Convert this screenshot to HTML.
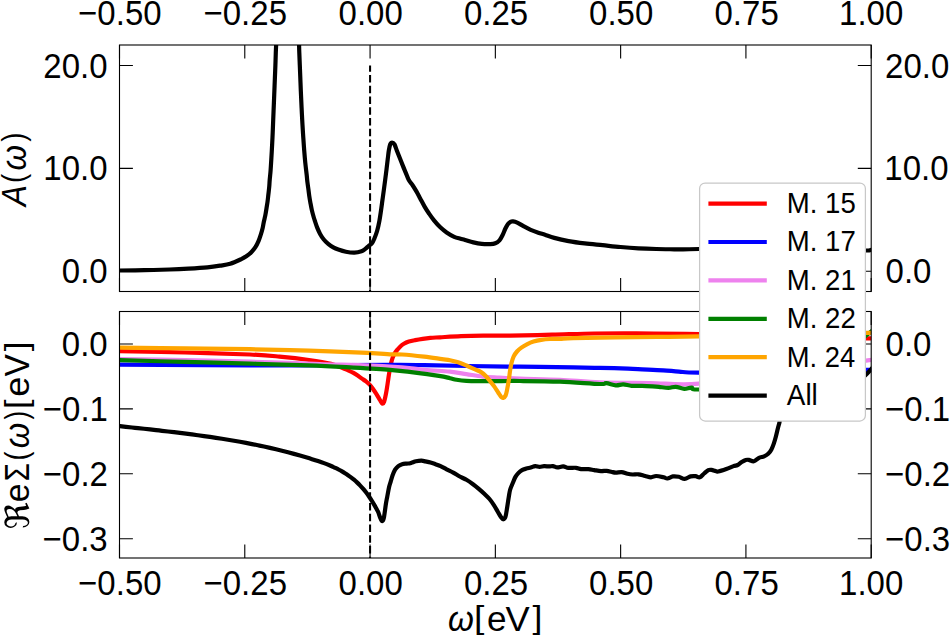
<!DOCTYPE html><html><head><meta charset="utf-8"><title>Spectral function and self-energy</title><style>html,body{margin:0;padding:0;background:#fff;overflow:hidden}svg{display:block}text{font-family:"Liberation Sans", sans-serif}</style></head><body><svg width="950" height="636" viewBox="0 0 950 636"><defs><clipPath id="ct"><rect x="119.5" y="45.0" width="751.7" height="246.5"/></clipPath><clipPath id="cb"><rect x="119.5" y="311.5" width="751.7" height="246.5"/></clipPath></defs><rect width="950" height="636" fill="#fff"/><g clip-path="url(#ct)" fill="none" stroke-linejoin="round" stroke-width="4.2"><path d="M117.00,270.50 C117.42,270.50 114.95,270.55 119.50,270.50 C124.05,270.45 135.97,270.37 144.30,270.20 C152.63,270.03 162.13,269.77 169.50,269.50 C176.87,269.23 182.18,268.97 188.50,268.60 C194.82,268.23 202.15,267.78 207.40,267.30 C212.65,266.82 216.20,266.28 220.00,265.70 C223.80,265.12 226.65,264.90 230.20,263.80 C233.75,262.70 238.62,260.35 241.30,259.10 C243.98,257.85 244.63,257.45 246.30,256.30 C247.97,255.15 249.78,253.72 251.30,252.20 C252.82,250.68 254.18,249.08 255.40,247.20 C256.62,245.32 257.70,243.00 258.60,240.90 C259.50,238.80 260.13,236.70 260.80,234.60 C261.47,232.50 262.11,230.37 262.60,228.30 C263.09,226.23 263.30,224.35 263.75,222.20 C264.20,220.05 264.84,217.72 265.30,215.40 C265.76,213.08 266.12,210.67 266.50,208.30 C266.88,205.93 267.28,203.55 267.60,201.20 C267.92,198.85 268.13,196.55 268.40,194.20 C268.67,191.85 268.98,189.47 269.20,187.10 C269.42,184.73 269.47,182.80 269.70,180.00 C269.93,177.20 270.32,174.02 270.60,170.30 C270.88,166.58 271.15,161.88 271.40,157.70 C271.65,153.52 271.88,149.38 272.10,145.20 C272.32,141.02 272.52,136.80 272.70,132.60 C272.88,128.40 273.00,124.95 273.20,120.00 C273.40,115.05 273.70,107.85 273.90,102.90 C274.10,97.95 274.23,94.50 274.40,90.30 C274.57,86.10 274.73,81.88 274.90,77.70 C275.07,73.52 275.25,69.38 275.40,65.20 C275.55,61.02 275.68,55.85 275.80,52.60 C275.92,49.35 275.98,48.47 276.10,45.70 C276.22,42.93 274.60,43.62 276.50,36.00 C278.40,28.38 283.77,0.00 287.50,0.00 C291.23,0.00 296.97,28.38 298.90,36.00 C300.83,43.62 299.03,42.93 299.10,45.70 C299.17,48.47 299.18,49.35 299.30,52.60 C299.42,55.85 299.63,61.02 299.80,65.20 C299.97,69.38 300.13,73.52 300.30,77.70 C300.47,81.88 300.63,86.33 300.80,90.30 C300.97,94.27 301.12,97.55 301.30,101.50 C301.48,105.45 301.70,110.05 301.90,114.00 C302.10,117.95 302.27,121.25 302.50,125.20 C302.73,129.15 303.02,133.52 303.30,137.70 C303.58,141.88 303.87,146.10 304.20,150.30 C304.53,154.50 304.88,158.78 305.30,162.90 C305.72,167.02 306.35,171.80 306.70,175.00 C307.05,178.20 307.12,179.73 307.40,182.10 C307.68,184.47 308.08,186.85 308.40,189.20 C308.72,191.55 308.95,193.85 309.30,196.20 C309.65,198.55 310.07,200.93 310.50,203.30 C310.93,205.67 311.35,208.03 311.90,210.40 C312.45,212.77 313.25,215.60 313.80,217.50 C314.35,219.40 314.63,220.12 315.20,221.80 C315.77,223.48 316.38,225.58 317.20,227.60 C318.02,229.62 319.00,231.92 320.10,233.90 C321.20,235.88 322.45,237.83 323.80,239.50 C325.15,241.17 326.62,242.58 328.20,243.90 C329.78,245.22 331.62,246.45 333.30,247.40 C334.98,248.35 336.20,248.87 338.30,249.60 C340.40,250.33 343.22,251.28 345.90,251.80 C348.58,252.32 351.80,252.78 354.40,252.70 C357.00,252.62 359.73,251.88 361.50,251.30 C363.27,250.72 363.75,250.15 365.00,249.20 C366.25,248.25 367.83,246.58 369.00,245.60 C370.17,244.62 371.15,244.37 372.00,243.30 C372.85,242.23 373.25,241.25 374.10,239.20 C374.95,237.15 376.22,234.07 377.10,231.00 C377.98,227.93 378.75,224.20 379.40,220.80 C380.05,217.40 380.50,214.00 381.00,210.60 C381.50,207.20 381.93,203.80 382.40,200.40 C382.87,197.00 383.22,194.55 383.80,190.20 C384.38,185.85 385.23,179.57 385.90,174.30 C386.57,169.03 387.32,162.53 387.80,158.60 C388.28,154.67 388.40,153.07 388.80,150.70 C389.20,148.33 389.65,145.77 390.20,144.40 C390.75,143.03 391.38,142.50 392.10,142.50 C392.82,142.50 393.70,143.03 394.50,144.40 C395.30,145.77 395.98,148.33 396.90,150.70 C397.82,153.07 398.97,155.98 400.00,158.60 C401.03,161.22 402.15,164.07 403.10,166.40 C404.05,168.73 404.75,170.32 405.70,172.60 C406.65,174.88 407.65,178.00 408.80,180.10 C409.95,182.20 411.33,183.32 412.60,185.20 C413.87,187.08 415.13,189.20 416.40,191.40 C417.67,193.60 418.83,195.87 420.20,198.40 C421.57,200.93 423.13,204.08 424.60,206.60 C426.07,209.12 427.43,211.20 429.00,213.50 C430.57,215.80 432.12,218.10 434.00,220.40 C435.88,222.70 438.20,225.30 440.30,227.30 C442.40,229.30 444.28,230.82 446.60,232.40 C448.92,233.98 451.88,235.75 454.20,236.80 C456.52,237.85 458.70,238.18 460.50,238.70 C462.30,239.22 462.85,239.28 465.00,239.90 C467.15,240.52 470.60,241.73 473.40,242.40 C476.20,243.07 478.98,243.62 481.80,243.90 C484.62,244.18 488.05,244.20 490.30,244.10 C492.55,244.00 493.77,243.93 495.30,243.30 C496.83,242.67 498.30,241.63 499.50,240.30 C500.70,238.97 501.52,237.27 502.50,235.30 C503.48,233.33 504.48,230.40 505.40,228.50 C506.32,226.60 507.15,225.02 508.00,223.90 C508.85,222.78 509.67,222.22 510.50,221.80 C511.33,221.38 511.88,221.27 513.00,221.40 C514.12,221.53 515.38,221.77 517.20,222.60 C519.02,223.43 521.65,225.20 523.90,226.40 C526.15,227.60 528.30,228.75 530.70,229.80 C533.10,230.85 535.92,231.87 538.30,232.70 C540.68,233.53 542.33,233.93 545.00,234.80 C547.67,235.67 550.37,236.85 554.30,237.90 C558.23,238.95 563.53,240.18 568.60,241.10 C573.67,242.02 579.03,242.72 584.70,243.40 C590.37,244.08 596.63,244.60 602.60,245.20 C608.57,245.80 614.53,246.48 620.50,247.00 C626.47,247.52 632.43,247.97 638.40,248.30 C644.37,248.63 650.33,248.83 656.30,249.00 C662.27,249.17 669.73,249.23 674.20,249.30 C678.67,249.37 678.97,249.45 683.10,249.40 C687.23,249.35 692.85,249.05 699.00,249.00 C705.15,248.95 709.83,249.17 720.00,249.10 C730.17,249.03 746.67,248.62 760.00,248.60 C773.33,248.58 786.67,248.77 800.00,249.00 C813.33,249.23 829.00,249.75 840.00,250.00 C851.00,250.25 860.80,250.53 866.00,250.50 C871.20,250.47 869.87,249.97 871.20,249.80 C872.53,249.63 873.53,249.55 874.00,249.50" stroke="#000"/></g><g clip-path="url(#cb)" fill="none" stroke-linejoin="round" stroke-width="4.2"><path d="M117.00,351.10 C117.42,351.10 108.17,350.87 119.50,351.10 C130.83,351.33 163.25,351.93 185.00,352.50 C206.75,353.07 234.25,353.82 250.00,354.50 C265.75,355.18 269.67,355.68 279.50,356.60 C289.33,357.52 300.42,358.78 309.00,360.00 C317.58,361.22 325.12,362.43 331.00,363.90 C336.88,365.37 341.35,367.68 344.30,368.80 C347.25,369.92 347.25,369.95 348.70,370.60 C350.15,371.25 351.57,371.92 353.00,372.70 C354.43,373.48 355.87,374.35 357.30,375.30 C358.73,376.25 360.15,377.38 361.60,378.40 C363.05,379.42 364.70,380.40 366.00,381.40 C367.30,382.40 368.25,383.18 369.40,384.40 C370.55,385.62 371.75,387.12 372.90,388.70 C374.05,390.28 375.22,392.17 376.30,393.90 C377.38,395.63 378.53,397.65 379.40,399.10 C380.27,400.55 380.93,401.85 381.50,402.60 C382.07,403.35 382.37,403.75 382.80,403.60 C383.23,403.45 383.67,402.88 384.10,401.70 C384.53,400.52 384.97,398.52 385.40,396.50 C385.83,394.48 386.27,392.18 386.70,389.60 C387.13,387.02 387.57,383.88 388.00,381.00 C388.43,378.12 388.80,375.18 389.30,372.30 C389.80,369.42 390.45,366.10 391.00,363.70 C391.55,361.30 392.03,359.53 392.60,357.90 C393.17,356.27 393.67,355.20 394.40,353.90 C395.13,352.60 396.05,351.30 397.00,350.10 C397.95,348.90 398.95,347.75 400.10,346.70 C401.25,345.65 402.43,344.65 403.90,343.80 C405.37,342.95 407.02,342.22 408.90,341.60 C410.78,340.98 412.90,340.57 415.20,340.10 C417.50,339.63 420.18,339.17 422.70,338.80 C425.22,338.43 427.42,338.15 430.30,337.90 C433.18,337.65 434.88,337.60 440.00,337.30 C445.12,337.00 453.80,336.38 461.00,336.10 C468.20,335.82 475.03,335.68 483.20,335.60 C491.37,335.52 498.52,335.75 510.00,335.60 C521.48,335.45 538.07,335.05 552.10,334.70 C566.13,334.35 580.17,333.73 594.20,333.50 C608.23,333.27 618.75,333.20 636.30,333.30 C653.85,333.40 675.55,333.57 699.50,334.10 C723.45,334.63 752.25,335.80 780.00,336.50 C807.75,337.20 850.33,338.02 866.00,338.30 C881.67,338.58 872.67,338.22 874.00,338.20" stroke="#ff0000"/><path d="M117.00,364.60 C117.42,364.60 97.33,364.47 119.50,364.60 C141.67,364.73 204.92,365.35 250.00,365.40 C295.08,365.45 360.97,364.95 390.00,364.90 C419.03,364.85 411.13,364.92 424.20,365.10 C437.27,365.28 452.43,365.73 468.40,366.00 C484.37,366.27 502.53,366.47 520.00,366.70 C537.47,366.93 559.87,367.20 573.20,367.40 C586.53,367.60 592.03,367.73 600.00,367.90 C607.97,368.07 613.98,368.17 621.00,368.40 C628.02,368.63 635.07,368.98 642.10,369.30 C649.13,369.62 657.05,369.92 663.20,370.30 C669.35,370.68 673.03,371.22 679.00,371.60 C684.97,371.98 682.17,372.62 699.00,372.60 C715.83,372.58 752.17,371.95 780.00,371.50 C807.83,371.05 850.33,370.18 866.00,369.90 C881.67,369.62 872.67,369.82 874.00,369.80" stroke="#0000ff"/><path d="M117.00,359.00 C117.42,359.00 108.17,358.82 119.50,359.00 C130.83,359.18 163.25,359.65 185.00,360.10 C206.75,360.55 227.50,361.05 250.00,361.70 C272.50,362.35 296.67,363.20 320.00,364.00 C343.33,364.80 372.63,365.53 390.00,366.50 C407.37,367.47 414.20,368.93 424.20,369.80 C434.20,370.67 442.97,370.98 450.00,371.70 C457.03,372.42 460.95,373.28 466.40,374.10 C471.85,374.92 477.25,376.02 482.70,376.60 C488.15,377.18 492.88,377.27 499.10,377.60 C505.32,377.93 509.85,378.23 520.00,378.60 C530.15,378.97 546.67,379.18 560.00,379.80 C573.33,380.42 585.00,381.77 600.00,382.30 C615.00,382.83 633.50,382.77 650.00,383.00 C666.50,383.23 677.33,385.53 699.00,383.70 C720.67,381.87 752.17,375.83 780.00,372.00 C807.83,368.17 850.33,362.70 866.00,360.70 C881.67,358.70 872.67,360.12 874.00,360.00" stroke="#ee82ee"/><path d="M117.00,360.20 C117.42,360.20 108.17,359.92 119.50,360.20 C130.83,360.48 163.25,361.33 185.00,361.90 C206.75,362.47 229.33,363.02 250.00,363.60 C270.67,364.18 291.80,364.73 309.00,365.40 C326.20,366.07 339.70,366.87 353.20,367.60 C366.70,368.33 380.62,369.08 390.00,369.80 C399.38,370.52 401.35,370.90 409.50,371.90 C417.65,372.90 432.15,374.75 438.90,375.80 C445.65,376.85 447.07,377.53 450.00,378.20 C452.93,378.87 453.77,379.35 456.50,379.80 C459.23,380.25 462.03,380.68 466.40,380.90 C470.77,381.12 477.93,381.07 482.70,381.10 C487.47,381.13 488.78,381.12 495.00,381.10 C501.22,381.08 509.17,380.90 520.00,381.00 C530.83,381.10 546.67,381.20 560.00,381.70 C573.33,382.20 592.28,383.75 600.00,384.00 C607.72,384.25 603.67,382.98 606.30,383.20 C608.93,383.42 612.98,385.10 615.80,385.30 C618.62,385.50 620.57,384.32 623.20,384.40 C625.83,384.48 628.45,385.57 631.60,385.80 C634.75,386.03 638.60,385.72 642.10,385.80 C645.60,385.88 649.80,386.13 652.60,386.30 C655.40,386.47 656.27,386.53 658.90,386.80 C661.53,387.07 665.58,387.90 668.40,387.90 C671.22,387.90 673.17,386.63 675.80,386.80 C678.43,386.97 681.57,388.77 684.20,388.90 C686.83,389.03 689.13,387.50 691.60,387.60 C694.07,387.70 687.60,389.43 699.00,389.50 C710.40,389.57 738.17,391.25 760.00,388.00 C781.83,384.75 814.17,377.17 830.00,370.00 C845.83,362.83 849.00,350.73 855.00,345.00 C861.00,339.27 863.33,337.83 866.00,335.60 C868.67,333.37 869.33,332.87 871.00,331.60 C872.67,330.33 875.17,328.60 876.00,328.00" stroke="#008000"/><path d="M117.00,347.70 C117.42,347.70 108.17,347.58 119.50,347.70 C130.83,347.82 163.25,348.15 185.00,348.40 C206.75,348.65 229.33,348.83 250.00,349.20 C270.67,349.57 289.35,350.00 309.00,350.60 C328.65,351.20 354.40,352.18 367.90,352.80 C381.40,353.42 384.30,354.02 390.00,354.30 C395.70,354.58 396.40,354.10 402.10,354.50 C407.80,354.90 417.57,355.93 424.20,356.70 C430.83,357.47 437.60,358.52 441.90,359.10 C446.20,359.68 447.28,359.67 450.00,360.20 C452.72,360.73 455.47,361.42 458.20,362.30 C460.93,363.18 463.68,364.35 466.40,365.50 C469.12,366.65 472.05,368.10 474.50,369.20 C476.95,370.30 479.18,370.93 481.10,372.10 C483.02,373.27 484.50,374.70 486.00,376.20 C487.50,377.70 488.73,379.40 490.10,381.10 C491.47,382.80 492.85,384.50 494.20,386.40 C495.55,388.30 497.05,390.77 498.20,392.50 C499.35,394.23 500.28,395.90 501.10,396.80 C501.92,397.70 502.35,398.12 503.10,397.90 C503.85,397.68 504.92,396.95 505.60,395.50 C506.28,394.05 506.65,391.88 507.20,389.20 C507.75,386.52 508.42,382.53 508.90,379.40 C509.38,376.27 509.67,373.13 510.10,370.40 C510.53,367.67 510.90,365.33 511.50,363.00 C512.10,360.67 512.78,358.32 513.70,356.40 C514.62,354.48 515.72,352.97 517.00,351.50 C518.28,350.03 519.75,348.80 521.40,347.60 C523.05,346.40 524.88,345.30 526.90,344.30 C528.92,343.30 531.12,342.33 533.50,341.60 C535.88,340.87 538.45,340.33 541.20,339.90 C543.95,339.47 546.87,339.18 550.00,339.00 C553.13,338.82 556.13,338.95 560.00,338.80 C563.87,338.65 563.98,338.35 573.20,338.10 C582.42,337.85 601.27,337.50 615.30,337.30 C629.33,337.10 643.37,337.05 657.40,336.90 C671.43,336.75 679.07,336.80 699.50,336.40 C719.93,336.00 752.25,335.08 780.00,334.50 C807.75,333.92 850.33,333.18 866.00,332.90 C881.67,332.62 872.67,332.82 874.00,332.80" stroke="#ffa500"/><path d="M117.00,425.70 C117.50,425.77 118.50,425.96 120.00,426.15 C121.50,426.33 124.00,426.59 126.00,426.81 C128.00,427.03 130.00,427.25 132.00,427.47 C134.00,427.69 136.00,427.90 138.00,428.12 C140.00,428.34 142.00,428.56 144.00,428.78 C146.00,429.00 148.00,429.22 150.00,429.44 C152.00,429.66 154.00,429.88 156.00,430.11 C158.00,430.34 160.00,430.56 162.00,430.79 C164.00,431.02 166.00,431.25 168.00,431.48 C170.00,431.71 172.00,431.95 174.00,432.19 C176.00,432.43 178.00,432.67 180.00,432.92 C182.00,433.17 184.00,433.42 186.00,433.67 C188.00,433.92 190.00,434.18 192.00,434.44 C194.00,434.70 196.00,434.97 198.00,435.24 C200.00,435.51 202.00,435.78 204.00,436.06 C206.00,436.34 208.00,436.63 210.00,436.92 C212.00,437.21 214.00,437.51 216.00,437.82 C218.00,438.12 220.00,438.43 222.00,438.75 C224.00,439.07 226.00,439.39 228.00,439.72 C230.00,440.05 232.00,440.39 234.00,440.74 C236.00,441.09 238.00,441.44 240.00,441.80 C242.00,442.16 244.00,442.53 246.00,442.91 C248.00,443.29 250.00,443.67 252.00,444.07 C254.00,444.47 256.00,444.88 258.00,445.29 C260.00,445.71 262.00,446.12 264.00,446.56 C266.00,447.00 268.00,447.44 270.00,447.90 C272.00,448.35 274.00,448.81 276.00,449.29 C278.00,449.77 280.00,450.25 282.00,450.75 C284.00,451.25 286.00,451.76 288.00,452.28 C290.00,452.80 292.00,453.33 294.00,453.88 C296.00,454.43 298.00,454.99 300.00,455.56 C302.00,456.13 304.00,456.71 306.00,457.31 C308.00,457.91 310.00,458.51 312.00,459.14 C314.00,459.76 316.00,460.39 318.00,461.06 C320.00,461.73 322.00,462.40 324.00,463.14 C326.00,463.88 328.50,464.88 330.00,465.49 C331.50,466.10 332.00,466.35 333.00,466.80 C334.00,467.25 335.00,467.72 336.00,468.21 C337.00,468.70 338.00,469.21 339.00,469.74 C340.00,470.27 341.00,470.82 342.00,471.40 C343.00,471.98 344.00,472.57 345.00,473.20 C346.00,473.83 347.00,474.47 348.00,475.16 C349.00,475.85 350.00,476.56 351.00,477.32 C352.00,478.08 353.00,478.86 354.00,479.70 C355.00,480.54 356.00,481.42 357.00,482.36 C358.00,483.30 359.00,484.28 360.00,485.33 C361.00,486.38 362.00,487.47 363.00,488.64 C364.00,489.81 365.00,491.04 366.00,492.34 C367.00,493.64 368.00,495.01 369.00,496.46 C370.00,497.91 371.00,499.43 372.00,501.04 C373.00,502.65 374.00,504.34 375.00,506.12 C376.00,507.90 377.20,509.99 378.00,511.74 C378.80,513.49 379.17,515.07 379.80,516.60 C380.43,518.13 381.22,520.37 381.80,520.90 C382.38,521.43 382.92,520.52 383.30,519.80 C383.68,519.08 383.80,518.30 384.10,516.60 C384.40,514.90 384.77,511.92 385.10,509.60 C385.43,507.28 385.73,504.92 386.10,502.70 C386.47,500.48 386.80,498.92 387.30,496.30 C387.80,493.68 388.53,489.45 389.10,487.00 C389.67,484.55 390.12,483.55 390.70,481.60 C391.28,479.65 391.87,477.30 392.60,475.30 C393.33,473.30 394.15,471.13 395.10,469.60 C396.05,468.07 397.13,467.00 398.30,466.10 C399.47,465.20 400.73,464.62 402.10,464.20 C403.47,463.78 405.13,463.75 406.50,463.60 C407.87,463.45 409.25,463.52 410.30,463.30 C411.35,463.08 411.85,462.65 412.80,462.30 C413.75,461.95 414.53,461.47 416.00,461.20 C417.47,460.93 420.03,460.67 421.60,460.70 C423.17,460.73 423.92,461.10 425.40,461.40 C426.88,461.70 428.82,462.03 430.50,462.50 C432.18,462.97 433.82,463.60 435.50,464.20 C437.18,464.80 438.75,465.25 440.60,466.10 C442.45,466.95 444.50,468.22 446.60,469.30 C448.70,470.38 451.00,471.40 453.20,472.60 C455.40,473.80 457.60,475.30 459.80,476.50 C462.00,477.70 464.20,478.52 466.40,479.80 C468.60,481.08 470.98,482.73 473.00,484.20 C475.02,485.67 476.67,487.05 478.50,488.60 C480.33,490.15 482.17,491.77 484.00,493.50 C485.83,495.23 487.85,497.07 489.50,499.00 C491.15,500.93 492.52,502.98 493.90,505.10 C495.28,507.22 496.60,509.67 497.80,511.70 C499.00,513.73 500.18,516.03 501.10,517.30 C502.02,518.57 502.57,519.42 503.30,519.30 C504.03,519.18 504.87,518.52 505.50,516.60 C506.13,514.68 506.55,511.10 507.10,507.80 C507.65,504.50 508.28,499.85 508.80,496.80 C509.32,493.75 509.48,491.92 510.20,489.50 C510.92,487.08 512.25,484.37 513.10,482.30 C513.95,480.23 514.43,478.63 515.30,477.10 C516.17,475.57 517.18,474.27 518.30,473.10 C519.42,471.93 520.65,470.85 522.00,470.10 C523.35,469.35 524.93,469.03 526.40,468.60 C527.87,468.17 529.33,467.92 530.80,467.50 C532.27,467.08 533.73,466.20 535.20,466.10 C536.67,466.00 538.12,466.88 539.60,466.90 C541.08,466.92 542.50,466.28 544.10,466.20 C545.70,466.12 547.73,466.42 549.20,466.40 C550.67,466.38 551.55,465.93 552.90,466.10 C554.25,466.27 555.58,467.35 557.30,467.40 C559.02,467.45 561.35,466.32 563.20,466.40 C565.05,466.48 566.28,467.67 568.40,467.90 C570.52,468.13 573.78,467.60 575.90,467.80 C578.02,468.00 579.02,468.88 581.10,469.10 C583.18,469.32 586.20,468.93 588.40,469.10 C590.60,469.27 592.20,469.77 594.30,470.10 C596.40,470.43 598.92,470.98 601.00,471.10 C603.08,471.22 605.08,470.68 606.80,470.80 C608.52,470.92 609.82,471.48 611.30,471.80 C612.78,472.12 613.98,472.65 615.70,472.70 C617.42,472.75 619.63,471.92 621.60,472.10 C623.57,472.28 625.67,473.40 627.50,473.80 C629.33,474.20 630.78,474.42 632.60,474.50 C634.42,474.58 636.32,474.05 638.40,474.30 C640.48,474.55 643.00,475.50 645.10,476.00 C647.20,476.50 649.17,477.30 651.00,477.30 C652.83,477.30 654.00,476.00 656.10,476.00 C658.20,476.00 661.72,476.88 663.60,477.30 C665.48,477.72 665.85,478.65 667.40,478.50 C668.95,478.35 671.00,476.68 672.90,476.40 C674.80,476.12 676.83,476.38 678.80,476.80 C680.77,477.22 682.73,478.97 684.70,478.90 C686.67,478.83 688.78,476.85 690.60,476.40 C692.42,475.95 694.07,476.05 695.60,476.20 C697.13,476.35 698.38,477.75 699.80,477.30 C701.22,476.85 702.68,474.70 704.10,473.50 C705.52,472.30 707.05,470.70 708.30,470.10 C709.55,469.50 710.48,469.77 711.60,469.90 C712.72,470.03 713.90,470.63 715.00,470.90 C716.10,471.17 716.32,471.80 718.20,471.50 C720.08,471.20 723.75,470.00 726.30,469.10 C728.85,468.20 731.62,466.78 733.50,466.10 C735.38,465.42 736.23,465.68 737.60,465.00 C738.97,464.32 740.33,462.85 741.70,462.00 C743.07,461.15 744.62,460.25 745.80,459.90 C746.98,459.55 747.45,459.67 748.80,459.90 C750.15,460.13 752.20,461.63 753.90,461.30 C755.60,460.97 757.30,458.72 759.00,457.90 C760.70,457.08 762.57,457.08 764.10,456.40 C765.63,455.72 767.00,454.92 768.20,453.80 C769.40,452.68 770.37,451.40 771.30,449.70 C772.23,448.00 773.03,445.80 773.80,443.60 C774.57,441.40 775.22,439.05 775.90,436.50 C776.58,433.95 777.30,430.68 777.90,428.30 C778.50,425.92 778.98,424.42 779.50,422.20 C780.02,419.98 779.25,418.70 781.00,415.00 C782.75,411.30 784.33,404.50 790.00,400.00 C795.67,395.50 805.83,391.17 815.00,388.00 C824.17,384.83 837.50,382.58 845.00,381.00 C852.50,379.42 856.50,379.57 860.00,378.50 C863.50,377.43 864.17,376.12 866.00,374.60 C867.83,373.08 869.50,371.00 871.00,369.40 C872.50,367.80 874.33,365.73 875.00,365.00" stroke="#000"/></g><line x1="370.07" y1="65.5" x2="370.07" y2="291.5" stroke="#000" stroke-width="2.05" stroke-dasharray="7.5 3.25" stroke-dashoffset="1.15"/><line x1="370.07" y1="311.5" x2="370.07" y2="558.0" stroke="#000" stroke-width="2.05" stroke-dasharray="7.5 3.25" stroke-dashoffset="2.05"/><rect x="119.5" y="45.0" width="751.70" height="246.5" fill="none" stroke="#000" stroke-width="1.1"/><path d="M119.50,45.0v13.4M119.50,291.5v-13.4" stroke="#000" stroke-width="1.1"/><path d="M244.78,45.0v13.4M244.78,291.5v-13.4" stroke="#000" stroke-width="1.1"/><path d="M370.07,45.0v13.4M370.07,291.5v-13.4" stroke="#000" stroke-width="1.1"/><path d="M495.35,45.0v13.4M495.35,291.5v-13.4" stroke="#000" stroke-width="1.1"/><path d="M620.63,45.0v13.4M620.63,291.5v-13.4" stroke="#000" stroke-width="1.1"/><path d="M745.92,45.0v13.4M745.92,291.5v-13.4" stroke="#000" stroke-width="1.1"/><path d="M871.20,45.0v13.4M871.20,291.5v-13.4" stroke="#000" stroke-width="1.1"/><rect x="119.5" y="311.5" width="751.70" height="246.5" fill="none" stroke="#000" stroke-width="1.1"/><path d="M119.50,311.5v13.4M119.50,558.0v-13.4" stroke="#000" stroke-width="1.1"/><path d="M244.78,311.5v13.4M244.78,558.0v-13.4" stroke="#000" stroke-width="1.1"/><path d="M370.07,311.5v13.4M370.07,558.0v-13.4" stroke="#000" stroke-width="1.1"/><path d="M495.35,311.5v13.4M495.35,558.0v-13.4" stroke="#000" stroke-width="1.1"/><path d="M620.63,311.5v13.4M620.63,558.0v-13.4" stroke="#000" stroke-width="1.1"/><path d="M745.92,311.5v13.4M745.92,558.0v-13.4" stroke="#000" stroke-width="1.1"/><path d="M871.20,311.5v13.4M871.20,558.0v-13.4" stroke="#000" stroke-width="1.1"/><path d="M119.5,271.30h13.4M871.2,271.30h-13.4" stroke="#000" stroke-width="1.1"/><path d="M119.5,168.40h13.4M871.2,168.40h-13.4" stroke="#000" stroke-width="1.1"/><path d="M119.5,65.50h13.4M871.2,65.50h-13.4" stroke="#000" stroke-width="1.1"/><path d="M119.5,344.00h13.4M871.2,344.00h-13.4" stroke="#000" stroke-width="1.1"/><path d="M119.5,408.90h13.4M871.2,408.90h-13.4" stroke="#000" stroke-width="1.1"/><path d="M119.5,473.80h13.4M871.2,473.80h-13.4" stroke="#000" stroke-width="1.1"/><path d="M119.5,538.70h13.4M871.2,538.70h-13.4" stroke="#000" stroke-width="1.1"/><rect x="699.6" y="183.0" width="165.8" height="238.0" rx="5.5" fill="#fff" stroke="#c8c8c8" stroke-width="1.25"/><line x1="708.4" y1="203.60" x2="766.8" y2="203.60" stroke="#ff0000" stroke-width="4.2"/><line x1="708.4" y1="242.00" x2="766.8" y2="242.00" stroke="#0000ff" stroke-width="4.2"/><line x1="708.4" y1="280.40" x2="766.8" y2="280.40" stroke="#ee82ee" stroke-width="4.2"/><line x1="708.4" y1="318.80" x2="766.8" y2="318.80" stroke="#008000" stroke-width="4.2"/><line x1="708.4" y1="357.20" x2="766.8" y2="357.20" stroke="#ffa500" stroke-width="4.2"/><line x1="708.4" y1="395.60" x2="766.8" y2="395.60" stroke="#000" stroke-width="4.2"/><g font-family='"Liberation Sans", sans-serif' fill="#000"><text transform="matrix(1.0000 0 0 1.0750 78.10 25.42)" font-size="33">&#8722;0.50</text><text transform="matrix(1.0000 0 0 1.0750 78.10 595.43)" font-size="33">&#8722;0.50</text><text transform="matrix(1.0000 0 0 1.0750 203.51 25.42)" font-size="33">&#8722;0.25</text><text transform="matrix(1.0000 0 0 1.0750 203.51 595.43)" font-size="33">&#8722;0.25</text><text transform="matrix(1.0000 0 0 1.0750 338.54 25.42)" font-size="33">0.00</text><text transform="matrix(1.0000 0 0 1.0750 338.54 595.43)" font-size="33">0.00</text><text transform="matrix(1.0000 0 0 1.0750 463.95 25.42)" font-size="33">0.25</text><text transform="matrix(1.0000 0 0 1.0750 463.95 595.43)" font-size="33">0.25</text><text transform="matrix(1.0000 0 0 1.0750 589.11 25.42)" font-size="33">0.50</text><text transform="matrix(1.0000 0 0 1.0750 589.11 595.43)" font-size="33">0.50</text><text transform="matrix(1.0000 0 0 1.0750 714.52 25.42)" font-size="33">0.75</text><text transform="matrix(1.0000 0 0 1.0750 714.52 595.43)" font-size="33">0.75</text><text transform="matrix(1.0000 0 0 1.0750 839.05 25.42)" font-size="33">1.00</text><text transform="matrix(1.0000 0 0 1.0750 839.05 595.43)" font-size="33">1.00</text><text transform="matrix(1.0000 0 0 1.0750 61.80 283.33)" font-size="33">0.0</text><text transform="matrix(1.0000 0 0 1.0750 885.55 283.33)" font-size="33">0.0</text><text transform="matrix(1.0000 0 0 1.0750 43.30 180.43)" font-size="33">10.0</text><text transform="matrix(1.0000 0 0 1.0750 884.30 180.43)" font-size="33">10.0</text><text transform="matrix(1.0000 0 0 1.0750 43.30 77.53)" font-size="33">20.0</text><text transform="matrix(1.0000 0 0 1.0750 885.05 77.53)" font-size="33">20.0</text><text transform="matrix(1.0000 0 0 1.0750 61.80 356.03)" font-size="33">0.0</text><text transform="matrix(1.0000 0 0 1.0750 885.55 356.03)" font-size="33">0.0</text><text transform="matrix(1.0000 0 0 1.0750 42.80 420.93)" font-size="33">&#8722;0.1</text><text transform="matrix(1.0000 0 0 1.0750 885.05 420.93)" font-size="33">&#8722;0.1</text><text transform="matrix(1.0000 0 0 1.0750 42.80 485.83)" font-size="33">&#8722;0.2</text><text transform="matrix(1.0000 0 0 1.0750 885.05 485.83)" font-size="33">&#8722;0.2</text><text transform="matrix(1.0000 0 0 1.0750 42.55 550.73)" font-size="33">&#8722;0.3</text><text transform="matrix(1.0000 0 0 1.0750 885.05 550.73)" font-size="33">&#8722;0.3</text><text transform="matrix(1.0219 0 0 1.0600 786.80 212.80)" font-size="27">M. 15</text><text transform="matrix(1.0219 0 0 1.0600 786.80 251.25)" font-size="27">M. 17</text><text transform="matrix(1.0219 0 0 1.0600 786.80 289.70)" font-size="27">M. 21</text><text transform="matrix(1.0219 0 0 1.0600 786.80 328.15)" font-size="27">M. 22</text><text transform="matrix(1.0140 0 0 1.0600 786.82 366.60)" font-size="27">M. 24</text><text transform="matrix(1.0336 0 0 1.0600 786.80 405.05)" font-size="27">All</text><text transform="matrix(1.0063 0 0 1.0722 447.99 631.13)" font-size="33"><tspan font-style="italic">&#969;</tspan></text><text transform="matrix(1.1259 0 0 0.9398 474.07 628.36)" font-size="33">[</text><text transform="matrix(1.0645 0 0 1.0833 487.10 631.33)" font-size="33">e</text><text transform="matrix(1.0977 0 0 1.0418 505.53 630.50)" font-size="33">V</text><text transform="matrix(1.0769 0 0 0.9398 532.43 628.36)" font-size="33">]</text><text transform="matrix(0 -1.0258 1.0667 0 29.43 502.24)" font-size="33">e</text><text transform="matrix(0 -0.8928 1.0637 0 29.20 481.16)" font-size="33">&#931;</text><text transform="matrix(0 -0.8114 0.9463 0 26.61 460.42)" font-size="33">(</text><text transform="matrix(0 -0.9895 1.0667 0 29.43 448.29)" font-size="33"><tspan font-style="italic">&#969;</tspan></text><text transform="matrix(0 -0.7771 0.9463 0 26.61 419.39)" font-size="33">)</text><text transform="matrix(0 -1.0074 0.9463 0 26.61 408.67)" font-size="33">[</text><text transform="matrix(0 -1.0968 1.0667 0 29.43 396.85)" font-size="33">e</text><text transform="matrix(0 -1.0140 1.0637 0 29.20 376.55)" font-size="33">V</text><text transform="matrix(0 -1.0615 0.9366 0 26.68 351.27)" font-size="33">]</text><text transform="matrix(0 -0.9655 1.0593 0 25.70 206.25)" font-size="33"><tspan font-style="italic">A</tspan></text><text transform="matrix(0 -0.8457 0.9431 0 23.53 182.89)" font-size="33">(</text><text transform="matrix(0 -0.9937 1.0500 0 26.14 170.59)" font-size="33"><tspan font-style="italic">&#969;</tspan></text><text transform="matrix(0 -0.8457 0.9431 0 23.53 141.81)" font-size="33">)</text><path transform="matrix(0 -0.0162 -0.0162 0 28.9 529.35)" d="M1282 -29Q1200 154 1200 313Q1200 453 1178 544Q1138 710 1059 710Q1017 710 925 667L805 611V412Q805 206 702 88Q599 -29 459 -29Q318 -29 216 88Q113 206 113 382Q158 370 204 358Q204 236 268 150Q332 63 404.0 63.0Q476 63 539 150Q603 237 603 387V1054Q603 1203 539 1291Q476 1378 384 1378Q303 1378 238 1291Q174 1205 174.0 1104.0Q174 1003 238 917Q302 830 385 830L439 738Q288 738 186 855Q83 973 83 1129Q83 1286 186 1403Q288 1520 439 1520Q601 1520 702 1403Q732 1368 748 1336L959 1434Q1146 1521 1258 1521Q1305 1521 1341 1507Q1467 1458 1467 1281Q1467 1194 1402 1071Q1336 947 1211 853Q1269 853 1318 804Q1354 768 1381 664Q1413 541 1413 410Q1413 282 1458 164L1602 231L1644 140ZM784 1247Q805 1172 805 1080V717L959 788Q1103 855 1180 959Q1254 1061 1254 1182Q1254 1333 1180 1365Q1156 1375 1125 1375Q1061 1375 959 1328Z"/></g></svg></body></html>
